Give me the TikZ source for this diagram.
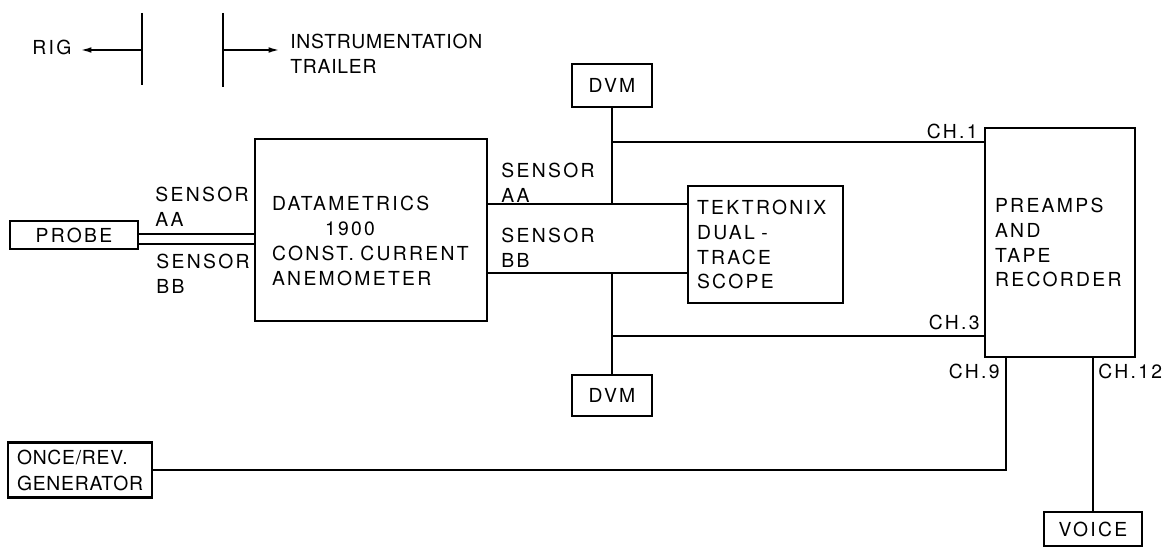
\documentclass[tikz,border=0pt]{standalone}
\usepackage{fontspec}
\setmainfont[LetterSpace=12]{TeX Gyre Heros}
\newfontfamily\tightfont[LetterSpace=4]{TeX Gyre Heros}
\usepackage{tikz}
\usetikzlibrary{positioning, arrows.meta, calc}
\tikzset{
  blockbox/.style={
    rectangle,
    draw=black,
    line width=1.2pt,
    align=left,
    font=\fontsize{11}{14.2}\selectfont,
    inner sep=0pt
  },
  smallbox/.style={
    blockbox,
    align=center
  },
  wireline/.style={
    line width=1.1pt
  },
  sidearrow/.style={
    -{Latex[length=6.5pt,width=3.2pt]},
    line width=1.1pt
  },
  blocklabel/.style={
    font=\fontsize{11}{14.2}\selectfont,
    align=left,
    inner sep=0pt
  }
}

\begin{document}
\begin{tikzpicture}[x=0.02cm, y=-0.02cm]
  \useasboundingbox (0,0) rectangle (1163,550);

  % rig / trailer split
  \node[blocklabel, anchor=west] (rig) at (32,47.5) {RIG};
  \node[blocklabel, anchor=west, font=\tightfont\fontsize{11}{14.2}\selectfont] (trailer) at (290,53.5)
    {INSTRUMENTATION\\TRAILER};
  \coordinate (rigtop) at (142,13);
  \coordinate (rigbot) at (142,85);
  \coordinate (rigmid) at (142,50);
  \coordinate (rigtip) at (80,50);
  \coordinate (trltop) at (223,13);
  \coordinate (trlbot) at (223,87);
  \coordinate (trlmid) at (223,50);
  \coordinate (trltip) at (280,50);
  \draw[line width=1.3pt] (rigtop) -- (rigbot);
  \draw[line width=1.3pt] (trltop) -- (trlbot);
  \draw[sidearrow] (rigmid) -- (rigtip);
  \draw[sidearrow] (trlmid) -- (trltip);

  % blocks
  \node[smallbox, minimum width=2.56cm, minimum height=0.56cm] (probe) at (74,235) {PROBE};
  \node[blockbox, minimum width=4.64cm, minimum height=3.64cm, text width=3.96cm] (anem) at (371,230)
    {\rule{0pt}{0.74cm}DATAMETRICS\\\hspace*{1.06cm}1900\\CONST. CURRENT\\ANEMOMETER};
  \node[smallbox, minimum width=1.6cm, minimum height=0.86cm] (dvmtop) at (612,85.5) {DVM};
  \node[smallbox, minimum width=1.6cm, minimum height=0.82cm] (dvmbot) at (612,395.5) {DVM};
  \node[blockbox, minimum width=3.1cm, minimum height=2.34cm, text width=2.74cm] (tek) at (765.5,244.5)
    {TEKTRONIX\\DUAL -\\TRACE\\SCOPE};
  \node[blockbox, minimum width=3.0cm, minimum height=4.58cm, text width=2.6cm] (preamp) at (1060,242.5)
    {PREAMPS\\AND\\TAPE\\RECORDER};
  \node[blockbox, minimum width=2.88cm, minimum height=1.1cm, text width=2.52cm,
    font=\tightfont\fontsize{11}{14.8}\selectfont] (once) at (80,470) {ONCE/REV.\\GENERATOR};
  \node[smallbox, minimum width=1.96cm, minimum height=0.68cm] (voice) at (1093,529) {VOICE};

  % labels
  \node[blocklabel, anchor=west] (saaleft) at (155,207) {SENSOR\\AA};
  \node[blocklabel, anchor=west] (sbbleft) at (156,273.5) {SENSOR\\BB};
  \node[blocklabel, anchor=west] (saaright) at (501,182.5) {SENSOR\\AA};
  \node[blocklabel, anchor=west] (sbbright) at (501,247.5) {SENSOR\\BB};
  \node[blocklabel, anchor=east] (chone) at (978,131) {CH.1};
  \node[blocklabel, anchor=east] (chthree) at (980,322) {CH.3};
  \node[blocklabel, anchor=east] (chnine) at (1000,371) {CH.9};
  \node[blocklabel, anchor=west] (chtwelve) at (1098,371) {CH.12};

  % wiring
  \coordinate (pa) at ($(probe.east)+(0,-1)$);
  \coordinate (pb) at ($(probe.east)+(0,9)$);
  \coordinate (aa) at ($(tek.north west)+(0,19)$);
  \coordinate (bb) at ($(tek.south west)+(0,-31)$);
  \coordinate (ch1) at ($(preamp.north west)+(0,15)$);
  \coordinate (ch3) at ($(preamp.south west)+(0,-22)$);
  \coordinate (ch9) at ($(preamp.south west)+(22,0)$);

  \draw[wireline] (pa) -- (pa -| anem.west);
  \draw[wireline] (pb) -- (pb -| anem.west);
  \draw[wireline] (aa -| anem.east) -- (aa);
  \draw[wireline] (bb -| anem.east) -- (bb);
  \draw[wireline] (dvmtop.south) -- (dvmtop.south |- aa);
  \draw[wireline] (dvmtop.south |- ch1) -- (ch1);
  \draw[wireline] (dvmbot.north) -- (dvmbot.north |- bb);
  \draw[wireline] (dvmbot.north |- ch3) -- (ch3);
  \draw[wireline] (ch9) |- (once.east);
  \draw[wireline] (voice.north |- preamp.south) -- (voice.north);
\end{tikzpicture}
\end{document}
